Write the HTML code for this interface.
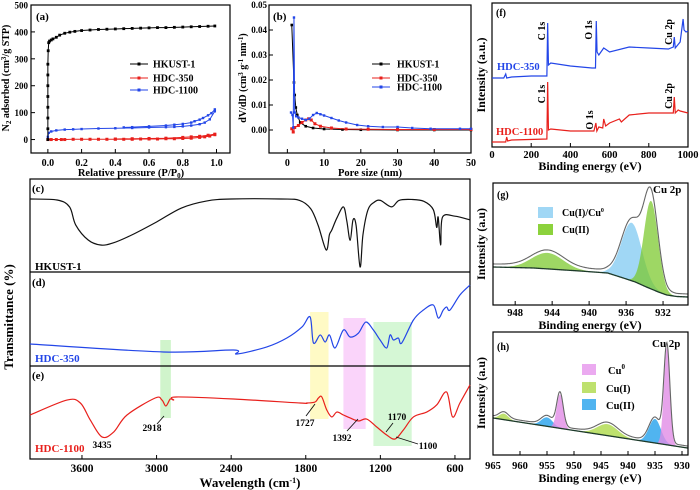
<!DOCTYPE html>
<html><head><meta charset="utf-8"><style>
html,body{margin:0;padding:0;background:#fff;}
svg{display:block;font-family:"Liberation Serif",serif;font-weight:bold;}
</style></head><body>
<svg id="chart" xmlns="http://www.w3.org/2000/svg" width="700" height="490" viewBox="0 0 700 490"></svg>
<script>
// ---------- data: panel (a) N2 isotherms ----------
const aHkX=[0,0,0,0,0,0,0,0,0.002,0.005,0.01,0.02,0.03,0.05,0.07,0.1,0.13,0.16,0.2,0.25,0.3,0.35,0.4,0.45,0.5,0.55,0.6,0.65,0.7,0.75,0.8,0.85,0.9,0.95,0.99];
const aHkY=[0,40,80,120,160,200,240,280,330,360,366,370,374,380,388,395,399,402,405,407,409,410,411,412,413,414,415,416,416,417,418,419,420,421,422];
const a350X=[0,0.02,0.05,0.08,0.1,0.15,0.2,0.25,0.3,0.35,0.4,0.45,0.5,0.55,0.6,0.65,0.7,0.75,0.8,0.85,0.9,0.93,0.96,0.99];
const a350Y=[0,0,0,0,0,1,1,1,1,1,1,1,1,2,2,2,3,3,4,5,8,10,13,18];
const a350dX=[0.99,0.95,0.9,0.85,0.8,0.7,0.6,0.5,0.4];
const a350dY=[20,16,12,10,8,5,4,3,2];
const a1100X=[0,0.005,0.02,0.05,0.1,0.15,0.2,0.3,0.4,0.5,0.6,0.7,0.75,0.8,0.85,0.9,0.93,0.96,0.99];
const a1100Y=[10,25,30,34,37,38,39,41,42,43,45,46,47,49,52,57,63,75,105];
const a1100dX=[0.99,0.97,0.95,0.92,0.9,0.87,0.85,0.8,0.75,0.7,0.6,0.5,0.45];
const a1100dY=[112,98,90,80,74,68,63,58,55,52,49,46,45];
const aXTicks=[0,0.2,0.4,0.6,0.8,1.0];
const aXLabels=["0.0","0.2","0.4","0.6","0.8","1.0"];
const aYTicks=[0,100,200,300,400,500];
// ---------- data: panel (b) pore size ----------
const bHkX=[1.2,1.8,2.0,2.3,2.7,3.5,5,7,10,15,20,30,40,50];
const bHkY=[0.042,0.019,0.014,0.009,0.006,0.003,0.0015,0.0008,0.0004,0.0002,0.0001,0,0,0];
const b350X=[1.2,1.6,2,3,4,5,5.8,6.5,7.5,9,12,16,22,30,40,50];
const b350Y=[0.0005,-0.0008,0.001,0.0018,0.003,0.004,0.0045,0.004,0.0025,0.0015,0.0008,0.0004,0.0003,0.0002,0.0002,0.0002];
const b1100X=[1.0,1.4,1.6,1.8,2.0,2.4,3,4,5,6,7,8,9,10,12,14,16,19,22,26,30,34,39,47,50];
const b1100Y=[0.007,0.006,0.001,0.045,0.007,0.0055,0.005,0.0045,0.004,0.0045,0.006,0.0068,0.0063,0.0058,0.0048,0.0038,0.003,0.002,0.0015,0.0012,0.0012,0.0008,0.0005,0.0005,0.0005];
const bXTicks=[0,10,20,30,40,50];
const bYTicks=[0,0.01,0.02,0.03,0.04,0.05];
const bYLabels=["0.00","0.01","0.02","0.03","0.04","0.05"];
// ---------- data: FTIR (c)(d)(e) ----------
const cWn=[4018,3800,3700,3650,3550,3450,3350,3200,3000,2800,2600,2400,2000,1850,1760,1700,1636,1610,1591,1550,1497,1470,1443,1420,1395,1363,1340,1300,1250,1200,1110,1050,950,850,774,747,735,715,700,600,479];
const cV=[78.5,77.4,70,50.5,34.4,29,31.2,39.8,53.8,68.8,76.3,78.5,78.5,77,68,50,23.7,40,45,58,70,55,34,56,50,5.4,40,66.7,75,77,70,77,78,76,67,48,59,29,59,60,56];
const dWn=[4018,2944,2381,2354,2113,1952,1830,1765,1738,1684,1644,1609,1564,1497,1443,1376,1317,1256,1202,1149,1122,1095,1055,1028,934,854,774,734,694,667,640,560,479];
const dV=[22.6,14,16.1,11.8,19.4,29,40.9,51.6,23.7,32.3,24.7,32.3,18.3,37.6,30.1,34.4,46.2,37.6,26.9,18.3,32.3,26.9,29,23.7,48.4,59.1,64.5,50.5,59.1,62.4,59.1,75.3,86];
const eWn=[4018,3721,3613,3533,3439,3345,3238,3011,2957,2925,2890,2863,2842,2381,1845,1791,1725,1698,1671,1631,1591,1550,1497,1443,1376,1310,1229,1149,1082,1015,934,827,747,667,619,560,479];
const eV=[47.3,63.4,60.2,41.9,23.7,29,47.3,65.6,63.4,57,64.5,63.4,66.7,64.5,60.2,60.2,61.3,65.6,66.7,52.7,45.2,50.5,47.3,44.1,40.9,43,34.4,25.8,21.5,31.2,45.2,50.5,58.1,72,45.2,60.2,79.6];
const ftXTicks=[3600,3000,2400,1800,1200,600];
const bandFrom=[2970,1765,1497,1256];
const bandTo=[2885,1617,1318,948];
// ---------- data: XPS survey (f) ----------
const f350X=[0,60,70,75,100,200,280,284,288,300,400,510,528,532,536,545,570,600,700,800,900,925,930,935,960,975,980,990,1000];
const f350V=[69,69,73,69,70,71,71,124,82,84,81,79,79,126,95,92,99,95,100,99,98,100,110,99,105,128,117,115,116];
const f1100X=[0,70,75,80,100,280,284,288,300,400,520,530,535,545,565,570,580,600,650,660,700,800,900,925,930,935,950,960,1000];
const f1100V=[5,5,10,6,7,8,65,17,18,16,16,24,16,20,19,28,21,24,28,25,32,34,34,34,50,34,37,36,34];
const fXTicks=[0,200,400,600,800,1000];
// ---------- data: Cu 2p (g) ----------
const gBgE=[950.4,946,941,938,936.3,935,933.8,932.5,931.6,930.5,929.3];
const gBgV=[38,37,34,32,27,23,18,13,10,8.5,8];
const gGreenC=[944.5,933.3];
const gGreenH=[16,88];
const gGreenW=[4,1.8];
const gBlueC=[935.4];
const gBlueH=[58];
const gBlueW=[2.6];
const gXTicks=[948,944,940,936,932];
// ---------- data: Cu 2p (h) ----------
const hBgE=[965,929];
const hBgV=[37,7];
const hCu0C=[932.8,952.6];
const hCu0H=[97,34];
const hCu0W=[1.3,1.4];
const hCu2C=[935.0,955.0];
const hCu2H=[24,9];
const hCu2W=[2.6,2.5];
const hCu1C=[963,943.8];
const hCu1H=[6,11.5];
const hCu1W=[2,4.5];
const hXTicks=[965,960,955,950,945,940,935,930];

const NS="http://www.w3.org/2000/svg";
const svg=document.getElementById("chart");
function mk(tag,attrs,parent){const e=document.createElementNS(NS,tag);for(const k in attrs)e.setAttribute(k,attrs[k]);(parent||svg).appendChild(e);return e;}
function S(d0,d1,r0,r1){return v=>r0+(v-d0)*(r1-r0)/(d1-d0);}
function txt(s,x,y,size,anchor,fill,parent){const t=mk("text",{x:x,y:y,"font-size":size,"text-anchor":anchor||"middle",fill:fill||"#000"},parent);t.textContent=s;return t;}
function rtxt(s,x,y,size,fill,parent){const t=mk("text",{transform:"translate("+x+","+y+") rotate(-90)","font-size":size,"text-anchor":"middle",fill:fill||"#000"},parent);t.textContent=s;return t;}
function lineD(xs,ys,sx,sy){return xs.map((x,i)=>(i?"L":"M")+sx(x).toFixed(2)+","+sy(ys[i]).toFixed(2)).join("");}
function smoothD(xs,ys,sx,sy){const p=xs.map((x,i)=>[sx(x),sy(ys[i])]);let d="M"+p[0][0]+","+p[0][1];for(let i=0;i<p.length-1;i++){const p0=p[i-1]||p[i],p1=p[i],p2=p[i+1],p3=p[i+2]||p2;const c1=[p1[0]+(p2[0]-p0[0])/6,p1[1]+(p2[1]-p0[1])/6],c2=[p2[0]-(p3[0]-p1[0])/6,p2[1]-(p3[1]-p1[1])/6];d+="C"+c1[0].toFixed(2)+","+c1[1].toFixed(2)+" "+c2[0].toFixed(2)+","+c2[1].toFixed(2)+" "+p2[0].toFixed(2)+","+p2[1].toFixed(2);}return d;}
function interp(xs,ys,x){for(let i=0;i<xs.length-1;i++){const a=xs[i],b=xs[i+1];if((x-a)*(x-b)<=0){return ys[i]+(x-a)/(b-a)*(ys[i+1]-ys[i]);}}return x>Math.max(xs[0],xs[xs.length-1])===(xs[0]>xs[xs.length-1])?ys[0]:ys[ys.length-1];}
function gsum(E,C,H,W){let s=0;for(let i=0;i<C.length;i++){const sg=W[i]/2.355;s+=H[i]*Math.exp(-((E-C[i])**2)/(2*sg*sg));}return s;}

const BLUE="#2346e8",RED="#e8201c";

// ================= panel (a) =================
const gA=mk("g",{});


const ax=S(-0.1,1.08,31,230), ay=S(-50,500,153,5);
const aFrame=mk("rect",{x:31,y:5,width:199,height:148,fill:"none",stroke:"#000","stroke-width":1.2},gA);


aXTicks.forEach((t,i)=>{
  const tk=mk("line",{x1:ax(t),x2:ax(t),y1:153,y2:149,stroke:"#000"},gA);
  
  
  const l=txt(aXLabels[i],ax(t),166,10,"middle","#000",gA);
  
  
});
aYTicks.forEach(t=>{
  const tk=mk("line",{x1:31,x2:35,y1:ay(t),y2:ay(t),stroke:"#000"},gA);
  
  
  const l=txt(String(t),28,ay(t)+3.5,9,"end","#000",gA);
  
  
});
function markSeries(xs,ys,sx,sy,color,r,par){
  const p=mk("path",{d:lineD(xs,ys,sx,sy),fill:"none",stroke:color,"stroke-width":1},par);
  
  
  xs.forEach((x,i)=>{
    const m=mk("rect",{x:sx(x)-r,y:sy(ys[i])-r,width:2*r,height:2*r,fill:color},par);
    
    
  });
}
markSeries(a350X,a350Y,ax,ay,RED,1.5,gA);
markSeries(a350dX,a350dY,ax,ay,RED,1.5,gA);
markSeries(a1100X,a1100Y,ax,ay,BLUE,1.2,gA);
markSeries(a1100dX,a1100dY,ax,ay,BLUE,1.2,gA);
markSeries(aHkX,aHkY,ax,ay,"#000",1.4,gA);
const aLeg=[["HKUST-1","#000",64],["HDC-350",RED,78],["HDC-1100",BLUE,90]];
aLeg.forEach(e=>{
  const l=mk("line",{x1:130,x2:148,y1:e[2],y2:e[2],stroke:e[1],"stroke-width":1},gA);
  
  
  const m=mk("rect",{x:137.5,y:e[2]-1.5,width:3,height:3,fill:e[1]},gA);
  
  
  const t=txt(e[0],153,e[2]+3.5,10,"start","#000",gA);
  
  
});
const aLab=txt("(a)",36,20,11,"start","#000",gA);


const aXT=mk("text",{x:131,y:176,"font-size":10.5,"text-anchor":"middle"},gA);
aXT.innerHTML='Relative pressure (P/P<tspan font-size="7" dy="2">0</tspan><tspan dy="-2">)</tspan>';


const aYT=mk("text",{transform:"translate(9,78) rotate(-90)","font-size":10,"text-anchor":"middle"},gA);
aYT.innerHTML='N<tspan font-size="7" dy="2">2</tspan><tspan dy="-2"> adsorbed (cm</tspan><tspan font-size="7" dy="-3">3</tspan><tspan dy="3">/g STP)</tspan>';



// ================= panel (b) =================
const gB=mk("g",{});


const bx=S(-5,50,269,471), by=S(-0.0092,0.05,153,5);
const bFrame=mk("rect",{x:269,y:5,width:202,height:148,fill:"none",stroke:"#000","stroke-width":1.2},gB);


bXTicks.forEach(t=>{
  const tk=mk("line",{x1:bx(t),x2:bx(t),y1:153,y2:149,stroke:"#000"},gB);
  
  
  const l=txt(String(t),bx(t),166,10,"middle","#000",gB);
  
  
});
bYTicks.forEach((t,i)=>{
  const tk=mk("line",{x1:269,x2:273,y1:by(t),y2:by(t),stroke:"#000"},gB);
  
  
  const l=txt(bYLabels[i],267,by(t)+3.2,9,"end","#000",gB);
  
  
});
markSeries(bHkX,bHkY,bx,by,"#000",1.3,gB);
markSeries(b350X,b350Y,bx,by,RED,1.5,gB);
markSeries(b1100X,b1100Y,bx,by,BLUE,1.2,gB);
const bLeg=[["HKUST-1","#000",64],["HDC-350",RED,78],["HDC-1100",BLUE,87]];
bLeg.forEach(e=>{
  const l=mk("line",{x1:372,x2:390,y1:e[2],y2:e[2],stroke:e[1],"stroke-width":1},gB);
  
  
  const m=mk("rect",{x:379.5,y:e[2]-1.5,width:3,height:3,fill:e[1]},gB);
  
  
  const t=txt(e[0],397,e[2]+3.5,10,"start","#000",gB);
  
  
});
const bLab=txt("(b)",273,20,11,"start","#000",gB);


const bXT=txt("Pore size (nm)",370,176,10.5,"middle","#000",gB);


const bYT=mk("text",{transform:"translate(246,78) rotate(-90)","font-size":10,"text-anchor":"middle"},gB);
bYT.innerHTML='dV/dD (cm<tspan font-size="7" dy="-3">3</tspan><tspan dy="3"> g</tspan><tspan font-size="7" dy="-3">-1</tspan><tspan dy="3"> nm</tspan><tspan font-size="7" dy="-3">-1</tspan><tspan dy="3">)</tspan>';



// ================= FTIR (c)(d)(e) =================
const gF=mk("g",{});


const fx=S(4018,479,30,470);
const cy=v=>179+(100-v)*0.93, dy=v=>272+(100-v)*0.93, ey=v=>366+(100-v)*0.93;
const bandCols=["rgba(150,230,140,0.45)","rgba(255,245,150,0.55)","rgba(245,170,245,0.5)","rgba(150,235,150,0.4)"];
const bandY=[[340,418],[312,419],[318,429],[322,446]];
bandFrom.forEach((b,i)=>{
  const r=mk("rect",{x:fx(b),y:bandY[i][0],width:fx(bandTo[i])-fx(b),height:bandY[i][1]-bandY[i][0],fill:bandCols[i]},gF);
  
  
});
const fFrame=mk("rect",{x:30,y:179,width:440,height:280,fill:"none",stroke:"#000","stroke-width":1.2},gF);


[272,366].forEach(y=>{
  const s=mk("line",{x1:30,x2:470,y1:y,y2:y,stroke:"#000","stroke-width":1.2},gF);
  
  
});
const cP=mk("path",{d:smoothD(cWn,cV,fx,cy),fill:"none",stroke:"#111","stroke-width":1.2},gF);


const dP=mk("path",{d:smoothD(dWn,dV,fx,dy),fill:"none",stroke:BLUE,"stroke-width":1.2},gF);


const eP=mk("path",{d:smoothD(eWn,eV,fx,ey),fill:"none",stroke:RED,"stroke-width":1.2},gF);


ftXTicks.forEach(t=>{
  const tk=mk("line",{x1:fx(t),x2:fx(t),y1:459,y2:455,stroke:"#000"},gF);
  
  
  const l=txt(String(t),fx(t),472,11.5,"middle","#000",gF);
  
  
});
const lc=txt("(c)",32,192,11,"start","#000",gF);


const ld=txt("(d)",32,286,11,"start","#000",gF);


const le=txt("(e)",32,379,11,"start","#000",gF);


const n1=txt("HKUST-1",35,270,11,"start","#000",gF);


const n2=txt("HDC-350",35,362,11,"start",BLUE,gF);


const n3=txt("HDC-1100",35,452,11,"start",RED,gF);


const ann=[["3435",102,448,null],["2918",152,431,[164,416,157,424]],["1727",305,426,[315,404,306,416]],["1392",342,441,[358,419,347,431]],["1170",397,420,[386,432,393,423]],["1100",428,449,[396,437,418,444]]];
ann.forEach(a=>{
  if(a[3]){const l=mk("line",{x1:a[3][0],y1:a[3][1],x2:a[3][2],y2:a[3][3],stroke:"#111","stroke-width":0.9},gF);
  
  }
  const t=txt(a[0],a[1],a[2],9.5,"middle","#000",gF);
  
  
});
const fXT=mk("text",{x:250,y:487,"font-size":13,"text-anchor":"middle"},gF);
fXT.innerHTML='Wavelength (cm<tspan font-size="8" dy="-4">-1</tspan><tspan dy="4">)</tspan>';


const fYT=rtxt("Transmittance (%)",13,317,13,"#000",gF);



// ================= panel (f) =================
const gFs=mk("g",{});


const sx=S(0,1000,492,688), sy=S(0,144,147,3);
const sFrame=mk("rect",{x:492,y:3,width:196,height:144,fill:"none",stroke:"#000","stroke-width":1.2},gFs);


const s1=mk("path",{d:lineD(f350X,f350V,sx,sy),fill:"none",stroke:BLUE,"stroke-width":1.2},gFs);


const s2=mk("path",{d:lineD(f1100X,f1100V,sx,sy),fill:"none",stroke:RED,"stroke-width":1.2},gFs);


fXTicks.forEach(t=>{
  const tk=mk("line",{x1:sx(t),x2:sx(t),y1:147,y2:143,stroke:"#000"},gFs);
  
  
  const l=txt(String(t),sx(t),158,10.5,"middle","#000",gFs);
  
  
});
const fPk=[["C 1s",545,31,"#000"],["O 1s",592,30,"#000"],["Cu 2p",672,32,"#000"],["C 1s",545,94,"#000"],["O 1s",593,120,"#000"],["Cu 2p",672,96,"#000"]];
fPk.forEach(p=>{
  const t=rtxt(p[0],p[1],p[2],10,p[3],gFs);
  
  
});
const fl1=txt("HDC-350",497,70,10.5,"start",BLUE,gFs);


const fl2=txt("HDC-1100",496,135,10.5,"start",RED,gFs);


const lf=txt("(f)",496,16,10,"start","#000",gFs);


const sXT=txt("Binding energy (eV)",590,170,12,"middle","#000",gFs);


const sYT=rtxt("Intensity (a.u.)",485,75,12,"#000",gFs);



// ================= panel (g) =================
const gG=mk("g",{});


const gx=S(950.4,929.3,493,688), gy=v=>305-v;
function compPath(E0,E1,step,bgE,bgV,C,H,W,sxf,syf){
  let top="",bot=[];
  for(let E=E0;E>=E1-1e-9;E-=step){const b=interp(bgE,bgV,E);top+=(top?"L":"M")+sxf(E).toFixed(2)+","+syf(b+gsum(E,C,H,W)).toFixed(2);bot.push(sxf(E).toFixed(2)+","+syf(b).toFixed(2));}
  return top+"L"+bot.reverse().join("L")+"Z";
}
function envPath(E0,E1,step,bgE,bgV,comps,sxf,syf,off){
  let d="";
  for(let E=E0;E>=E1-1e-9;E-=step){let v=interp(bgE,bgV,E)+off;comps.forEach(c=>{v+=gsum(E,c[0],c[1],c[2]);});d+=(d?"L":"M")+sxf(E).toFixed(2)+","+syf(v).toFixed(2);}
  return d;
}
function bgPath(E0,E1,step,bgE,bgV,sxf,syf){let d="";for(let E=E0;E>=E1-1e-9;E-=step){d+=(d?"L":"M")+sxf(E).toFixed(2)+","+syf(interp(bgE,bgV,E)).toFixed(2);}return d;}
const gBlue=mk("path",{d:compPath(950.4,929.3,0.1,gBgE,gBgV,gBlueC,gBlueH,gBlueW,gx,gy),fill:"rgb(160,215,245)"},gG);


const gGreen=mk("path",{d:compPath(950.4,929.3,0.1,gBgE,gBgV,gGreenC,gGreenH,gGreenW,gx,gy),fill:"rgba(120,200,40,0.72)"},gG);


const gBg=mk("path",{d:bgPath(950.4,929.3,0.1,gBgE,gBgV,gx,gy),fill:"none",stroke:"#1d3a2a","stroke-width":1.3},gG);


const gEnv=mk("path",{d:envPath(950.4,929.3,0.1,gBgE,gBgV,[[gGreenC,gGreenH,gGreenW],[gBlueC,gBlueH,gBlueW]],gx,gy,3),fill:"none",stroke:"#666","stroke-width":1.1},gG);


const gFrame=mk("rect",{x:493,y:183,width:195,height:122,fill:"none",stroke:"#000","stroke-width":1.2},gG);


gXTicks.forEach(t=>{
  const tk=mk("line",{x1:gx(t),x2:gx(t),y1:305,y2:301,stroke:"#000"},gG);
  
  
  const l=txt(String(t),gx(t),316,10.5,"middle","#000",gG);
  
  
});
const gs1=mk("rect",{x:538,y:207,width:15,height:11,fill:"rgb(160,215,245)"},gG);


const gs2=mk("rect",{x:538,y:224,width:15,height:11,fill:"rgb(140,210,60)"},gG);


const gt1=mk("text",{x:562,y:216,"font-size":10},gG);
gt1.innerHTML='Cu(I)/Cu<tspan font-size="6" dy="-4">0</tspan>';


const gt2=txt("Cu(II)",562,233,10,"start","#000",gG);


const gCu=txt("Cu 2p",653,193,11,"start","#000",gG);


const lg=txt("(g)",497,198,10,"start","#000",gG);


const gXT=txt("Binding energy (eV)",590,329,12,"middle","#000",gG);


const gYT=rtxt("Intensity (a.u)",485,244,12,"#000",gG);



// ================= panel (h) =================
const gH=mk("g",{});


const hx=S(965,929,493,687.4), hy=v=>455-v;
const hG=mk("path",{d:compPath(965,928.9,0.1,hBgE,hBgV,hCu1C,hCu1H,hCu1W,hx,hy),fill:"rgb(190,225,110)"},gH);


const hB=mk("path",{d:compPath(965,928.9,0.1,hBgE,hBgV,hCu2C,hCu2H,hCu2W,hx,hy),fill:"rgb(80,180,240)"},gH);


const hP=mk("path",{d:compPath(965,928.9,0.1,hBgE,hBgV,hCu0C,hCu0H,hCu0W,hx,hy),fill:"rgba(225,140,230,0.8)"},gH);


const hBg=mk("path",{d:bgPath(965,928.9,0.1,hBgE,hBgV,hx,hy),fill:"none",stroke:"#1d3a2a","stroke-width":1.3},gH);


const hEnv=mk("path",{d:envPath(965,928.9,0.1,hBgE,hBgV,[[hCu0C,hCu0H,hCu0W],[hCu2C,hCu2H,hCu2W],[hCu1C,hCu1H,hCu1W]],hx,hy,2),fill:"none",stroke:"#666","stroke-width":1.1},gH);


const hFrame=mk("rect",{x:493,y:332,width:195,height:123,fill:"none",stroke:"#000","stroke-width":1.2},gH);


hXTicks.forEach(t=>{
  const tk=mk("line",{x1:hx(t),x2:hx(t),y1:455,y2:451,stroke:"#000"},gH);
  
  
  const l=txt(String(t),hx(t),469,10.5,"middle","#000",gH);
  
  
});
const hLeg=[["0",370,"rgb(235,170,240)"],["Cu(I)",388,"rgb(190,225,110)"],["Cu(II)",405,"rgb(80,180,240)"]];
hLeg.forEach((e,i)=>{
  const s=mk("rect",{x:582,y:e[1]-6,width:14,height:11,fill:e[2]},gH);
  
  
  let t;
  if(i===0){t=mk("text",{x:608,y:e[1]+4,"font-size":10.5},gH);t.innerHTML='Cu<tspan font-size="7" dy="-5">0</tspan>';}
  else{t=txt(e[0],606,e[1]+4,10.5,"start","#000",gH);}
  
  
});
const hCu=txt("Cu 2p",652,347,11,"start","#000",gH);


const lh=txt("(h)",497,350,10,"start","#000",gH);


const hXT=txt("Binding energy (eV)",590,482,12,"middle","#000",gH);


const hYT=rtxt("Intensity (a.u)",485,393,12,"#000",gH);


</script>
</body></html>
